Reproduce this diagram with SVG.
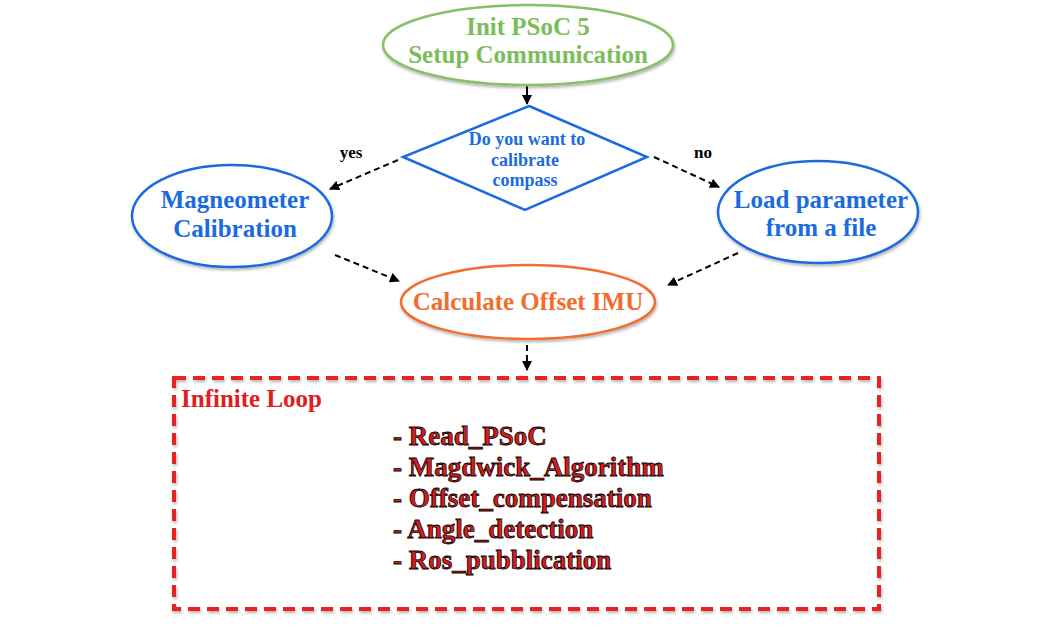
<svg xmlns="http://www.w3.org/2000/svg" width="1041" height="643" viewBox="0 0 1041 643">
<defs>
<marker id="ah" viewBox="0 0 10 10" refX="9" refY="5" markerWidth="5" markerHeight="5" orient="auto"><path d="M0,0 L10,5 L0,10 z" fill="#000"/></marker>
<filter id="sh" x="-10%" y="-10%" width="120%" height="130%"><feDropShadow dx="1" dy="2" stdDeviation="1.5" flood-color="#000" flood-opacity="0.3"/></filter>
</defs>
<style>
text{font-family:'Liberation Serif','DejaVu Serif',serif;font-weight:bold;text-anchor:middle}
.g{fill:#7bbd5a}.b{fill:#1a6be0}.o{fill:#f26d2d}.r{fill:#e02020}
.node{fill:#fff;stroke-width:2.5}
.dash{fill:none;stroke:#000;stroke-width:2;stroke-dasharray:6 4;marker-end:url(#ah)}
.item{fill:#d81b1b;stroke:#000;stroke-width:0.8;text-anchor:start;font-size:27px}
</style>
<rect width="1041" height="643" fill="#fff"/>
<g id="connectors">
<path d="M527,86 V104" fill="none" stroke="#000" stroke-width="2" marker-end="url(#ah)"/>
<path class="dash" d="M398,160 L330,189"/>
<path class="dash" d="M654,157 L719,187"/>
<path class="dash" d="M335,255 L399,281"/>
<path class="dash" d="M738,253 L668,285"/>
<path class="dash" d="M527,345 V370"/>
<text x="351" y="158" font-size="17" fill="#000">yes</text>
<text x="703" y="158" font-size="17" fill="#000">no</text>
</g>
<g id="init">
<ellipse class="node" cx="528" cy="45" rx="145" ry="40" stroke="#86c167" filter="url(#sh)"/>
<text class="g" x="528" y="35" font-size="25">Init PSoC 5</text>
<text class="g" x="528" y="63" font-size="25">Setup Communication</text>
</g>
<g id="decision">
<polygon class="node" points="529,106 647,157 525,210 403,157" stroke="#1a6be0" stroke-width="3"/>
<text class="b" x="527" y="145" font-size="18">Do you want to</text>
<text class="b" x="525" y="166" font-size="18">calibrate</text>
<text class="b" x="525" y="186" font-size="18">compass</text>
</g>
<g id="magcal">
<ellipse class="node" cx="232" cy="216" rx="100" ry="51" stroke="#1a6be0" filter="url(#sh)"/>
<text class="b" x="235" y="208" font-size="25">Magneometer</text>
<text class="b" x="235" y="237" font-size="25">Calibration</text>
</g>
<g id="loadparam">
<ellipse class="node" cx="818" cy="212" rx="100" ry="51" stroke="#1a6be0" filter="url(#sh)"/>
<text class="b" x="821" y="208" font-size="25">Load parameter</text>
<text class="b" x="821" y="236" font-size="25">from a file</text>
</g>
<g id="offset">
<ellipse class="node" cx="528" cy="302" rx="127" ry="37" stroke="#f26d2d" filter="url(#sh)"/>
<text class="o" x="528" y="310" font-size="25">Calculate Offset IMU</text>
</g>
<g id="loop">
<rect x="174" y="378" width="705" height="231" fill="none" stroke="#e82020" stroke-width="4" stroke-dasharray="12 7" filter="url(#sh)"/>
<text class="r" x="181" y="407" font-size="25" style="text-anchor:start">Infinite Loop</text>
<text class="item" x="393" y="445">- Read_PSoC</text>
<text class="item" x="393" y="476">- Magdwick_Algorithm</text>
<text class="item" x="393" y="507">- Offset_compensation</text>
<text class="item" x="393" y="538">- Angle_detection</text>
<text class="item" x="393" y="569">- Ros_pubblication</text>
</g>
</svg>
